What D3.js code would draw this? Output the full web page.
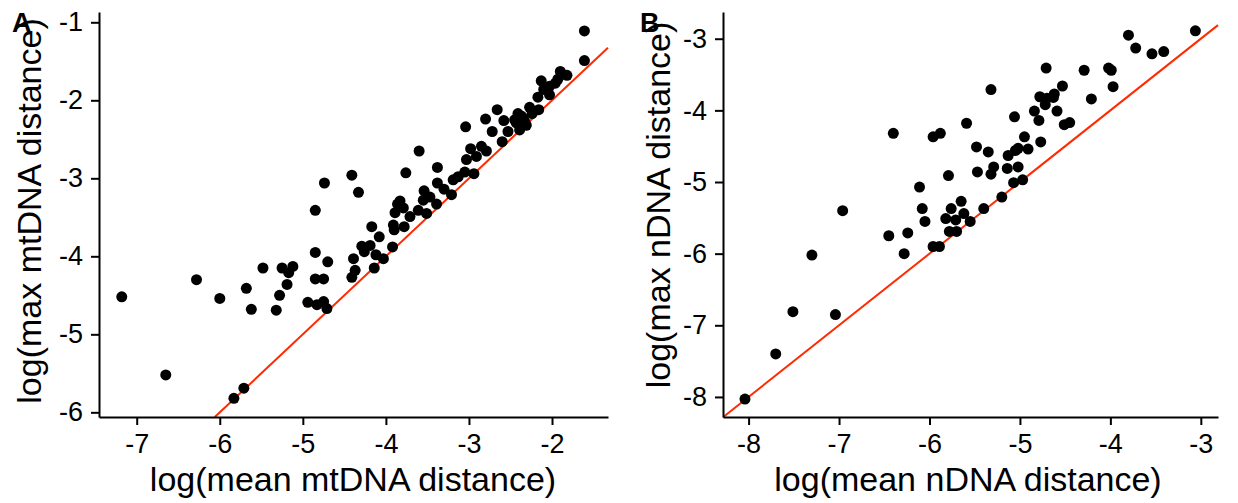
<!DOCTYPE html>
<html lang="en">
<head>
<meta charset="UTF-8">
<title>mtDNA vs nDNA distance</title>
<script src="https://d3js.org/d3.v7.min.js"></script>
<style>
    body, html {
        margin: 0;
        background: white;
        font-family: "Liberation Sans", Arial, sans-serif;
    }
    svg text { fill: black; }
</style>
</head>
<body>
<svg id="chart" width="1238" height="503"></svg>
<script>
// panel A: log(mean mtDNA distance) vs log(max mtDNA distance)
const mtMean = [-7.18, -6.65, -6.28, -6.00, -5.83, -5.71, -5.68, -5.62, -5.48, -5.32, -5.28, -5.25, -5.19, -5.17, -5.12,
    -4.94, -4.85, -4.85, -4.85, -4.83, -4.75, -4.75, -4.71, -4.74, -4.70, -4.41, -4.33, -4.39, -4.37, -4.41,
    -4.17, -4.29, -4.26, -4.19, -4.08, -4.12, -4.14, -4.03, -3.92, -3.91, -3.89, -3.86, -3.83, -3.90, -3.79,
    -3.78, -3.76, -3.71, -3.61, -3.60, -3.54, -3.55, -3.51, -3.47, -3.39, -3.38, -3.38, -3.30, -3.21, -3.19,
    -3.13, -3.05, -3.03, -3.04, -2.98, -2.94, -2.91, -2.85, -2.79, -2.80, -2.72, -2.66, -2.60, -2.58, -2.53,
    -2.41, -2.43, -2.39, -2.35, -2.31, -2.27, -2.24, -2.16, -2.17, -2.13, -2.10, -2.03, -2.03, -1.96, -1.93,
    -1.90, -1.82, -1.61, -1.61, -2.45, -2.37, -2.33];
const mtMax = [-4.52, -5.52, -4.30, -4.54, -5.82, -5.69, -4.41, -4.68, -4.15, -4.69, -4.50, -4.15, -4.36, -4.21, -4.13,
    -4.59, -3.41, -3.95, -4.29, -4.62, -4.29, -4.58, -4.67, -3.06, -4.07, -2.96, -3.18, -4.03, -4.18, -4.27,
    -3.62, -3.87, -3.94, -3.86, -3.75, -3.98, -4.15, -4.03, -3.88, -3.60, -3.44, -3.33, -3.29, -3.66, -3.38,
    -3.62, -2.93, -3.49, -3.41, -2.65, -3.16, -3.28, -3.45, -3.24, -3.33, -2.86, -3.06, -3.14, -3.21, -3.02,
    -2.98, -2.92, -2.76, -2.34, -2.62, -2.94, -2.72, -2.59, -2.65, -2.24, -2.40, -2.12, -2.53, -2.26, -2.40,
    -2.17, -2.29, -2.38, -2.23, -2.32, -2.09, -2.17, -2.12, -1.96, -1.75, -1.86, -1.82, -1.93, -1.78, -1.73,
    -1.63, -1.68, -1.11, -1.49, -2.25, -2.20, -2.27];

// panel B: log(mean nDNA distance) vs log(max nDNA distance)
const nMean = [-8.04, -7.70, -7.51, -7.30, -7.04, -6.96, -6.45, -6.40, -6.28, -6.24, -6.11, -6.08, -6.05, -5.96, -5.88,
    -5.96, -5.89, -5.82, -5.79, -5.78, -5.76, -5.71, -5.70, -5.65, -5.62, -5.59, -5.55, -5.48, -5.47, -5.40,
    -5.35, -5.32, -5.32, -5.29, -5.20, -5.14, -5.13, -5.07, -5.06, -5.05, -5.02, -5.02, -4.97, -4.95, -4.91,
    -4.84, -4.79, -4.78, -4.77, -4.72, -4.70, -4.71, -4.63, -4.62, -4.59, -4.53, -4.51, -4.45, -4.29, -4.21,
    -4.02, -3.99, -3.97, -3.80, -3.72, -3.54, -3.41, -3.06];
const nMax = [-8.03, -7.40, -6.81, -6.02, -6.85, -5.40, -5.75, -4.32, -6.00, -5.71, -5.07, -5.37, -5.55, -4.37, -4.32,
    -5.90, -5.90, -5.51, -4.91, -5.69, -5.37, -5.53, -5.69, -5.27, -5.44, -4.18, -5.55, -4.51, -4.86, -5.37,
    -4.58, -3.71, -4.89, -4.79, -5.21, -4.81, -4.63, -5.01, -4.09, -4.56, -4.53, -4.79, -4.97, -4.37, -4.54,
    -4.01, -4.14, -3.81, -4.44, -3.92, -3.83, -3.41, -3.82, -3.77, -4.01, -3.66, -4.20, -4.17, -3.44, -3.84,
    -3.41, -3.44, -3.67, -2.95, -3.13, -3.21, -3.18, -2.89];

const ticksA_x = [-7, -6, -5, -4, -3, -2];
const ticksA_y = [-6, -5, -4, -3, -2, -1];
const ticksB_x = [-8, -7, -6, -5, -4, -3];
const ticksB_y = [-8, -7, -6, -5, -4, -3];

const svg = d3.select("#chart");

function drawPanel(cfg) {
    const x = d3.scaleLinear().domain(cfg.xDomain).range([cfg.left, cfg.right]);
    const y = d3.scaleLinear().domain(cfg.yDomain).range([cfg.bottom, cfg.top]);
    const g = svg.append("g");

    // 1:1 line
    const lo = Math.max(cfg.xDomain[0], cfg.yDomain[0]);
    const hi = Math.min(cfg.xDomain[1], cfg.yDomain[1]);
    g.append("line")
        .attr("x1", x(lo)).attr("y1", y(lo))
        .attr("x2", x(hi)).attr("y2", y(hi))
        .attr("stroke", "#ff2a00")
        .attr("stroke-width", 2);

    g.selectAll("circle")
        .data(cfg.xs.map((d, i) => [d, cfg.ys[i]]))
        .enter().append("circle")
        .attr("cx", d => x(d[0]))
        .attr("cy", d => y(d[1]))
        .attr("r", 5.5)
        .attr("fill", "black");

    const xAxis = g.append("g")
        .attr("transform", `translate(0,${cfg.bottom})`)
        .call(d3.axisBottom(x).tickValues(cfg.xTicks).tickFormat(d => String(d))
            .tickSizeInner(8).tickSizeOuter(0).tickPadding(8));
    const yAxis = g.append("g")
        .attr("transform", `translate(${cfg.left},0)`)
        .call(d3.axisLeft(y).tickValues(cfg.yTicks).tickFormat(d => String(d))
            .tickSizeInner(8).tickSizeOuter(0).tickPadding(8));

    [xAxis, yAxis].forEach(a => {
        a.select(".domain").attr("stroke", "black").attr("stroke-width", 2);
        a.selectAll(".tick line").attr("stroke", "black").attr("stroke-width", 2);
        a.selectAll(".tick text")
            .attr("font-family", "Liberation Sans, Arial, sans-serif")
            .attr("font-size", 27)
            .attr("fill", "black");
    });
    xAxis.selectAll(".tick text").attr("dy", "0.75em");

    g.append("text")
        .attr("x", cfg.xLabelX)
        .attr("y", 491)
        .attr("text-anchor", "middle")
        .attr("font-size", 34)
        .text(cfg.xLabel);

    g.append("text")
        .attr("transform", `translate(${cfg.yLabelX},${cfg.yLabelY}) rotate(-90)`)
        .attr("text-anchor", "middle")
        .attr("font-size", 34)
        .text(cfg.yLabel);

    g.append("text")
        .attr("x", cfg.tagX)
        .attr("y", 32)
        .attr("font-size", 27)
        .attr("font-weight", "bold")
        .text(cfg.tag);
}

drawPanel({
    xs: mtMean, ys: mtMax,
    xDomain: [-7.454, -1.326], yDomain: [-6.06, -0.868],
    left: 99, right: 608, top: 12, bottom: 417,
    xTicks: ticksA_x, yTicks: ticksA_y,
    xLabel: "log(mean mtDNA distance)", yLabel: "log(max mtDNA distance)",
    xLabelX: 353, yLabelX: 41, yLabelY: 211,
    tag: "A", tagX: 12
});

drawPanel({
    xs: nMean, ys: nMax,
    xDomain: [-8.283, -2.81], yDomain: [-8.28, -2.627],
    left: 723, right: 1218, top: 12, bottom: 417,
    xTicks: ticksB_x, yTicks: ticksB_y,
    xLabel: "log(mean nDNA distance)", yLabel: "log(max nDNA distance)",
    xLabelX: 968, yLabelX: 670, yLabelY: 205,
    tag: "B", tagX: 640
});
</script>
</body>
</html>
